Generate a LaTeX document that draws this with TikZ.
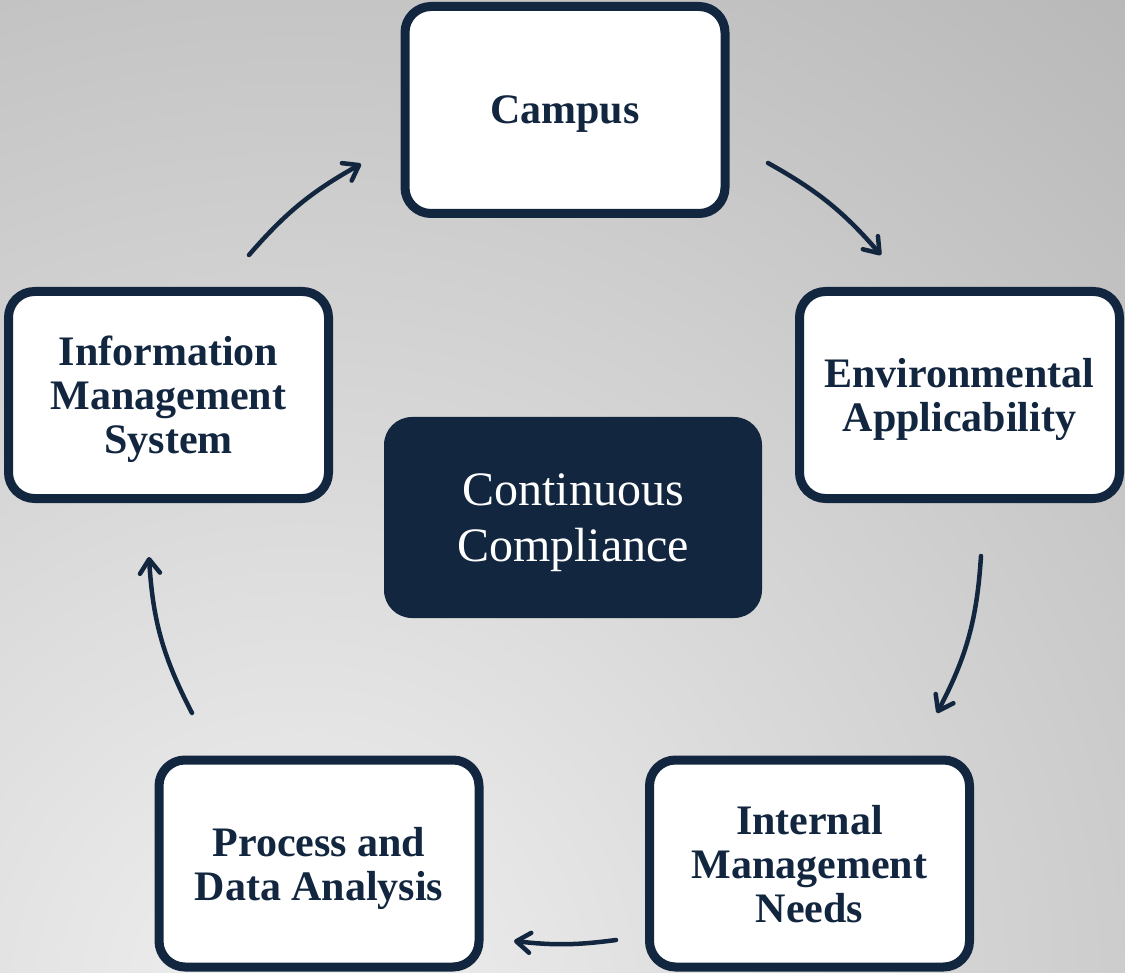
\documentclass[tikz,border=0pt]{standalone}
\usepackage{fontspec}
\setmainfont{Liberation Serif}
\usetikzlibrary{arrows.meta}
\definecolor{navy}{HTML}{12263F}
\definecolor{bgin}{HTML}{F0F0F0}
\definecolor{bgout}{HTML}{B8B8B8}
\pgfdeclareradialshading{bgshade}{\pgfpoint{0bp}{0bp}}{color(0bp)=(bgin); color(25bp)=(bgout); color(50bp)=(bgout)}
\begin{document}
\begin{tikzpicture}[x=1pt,y=1pt,
  stepbox/.style={draw=navy, line width=9pt, fill=white, rounded corners=26pt,
    minimum width=320pt, minimum height=207pt, inner sep=0pt, align=center,
    text depth=0pt, text=navy, font=\fontsize{42}{44}\selectfont\bfseries},
  core/.style={fill=navy, rounded corners=28pt, minimum width=378pt,
    minimum height=201pt, inner sep=0pt, align=center, text depth=0pt,
    text=white, font=\fontsize{48}{56}\selectfont},
  flow/.style={draw=navy, line width=4.5pt, line cap=round,
    -{Straight Barb[length=14pt,width=20pt,line cap=round,line join=round]}}
]
\useasboundingbox (0,0) rectangle (1125,-973);
\begin{scope}
  \clip (0,0) rectangle (1125,-973);
  \shade[shading=bgshade] (300,-1000) circle (1300);
\end{scope}

\node[stepbox] (campus) at (565,-110) {Campus};
\node[stepbox] (info) at (168.5,-395) {Information\\Management\\System};
\node[stepbox] (env) at (959.5,-395) {Environmental\\Applicability};
\node[stepbox] (need) at (809.5,-863.5) {Internal\\Management\\Needs};
\node[stepbox] (proc) at (319,-863.5) {Process and\\Data Analysis};
\node[core] (cc) at (573,-517.5) {Continuous\\Compliance};

\coordinate (a1s) at (249,-255); \coordinate (a1e) at (361,-164);
\coordinate (a2s) at (768,-163); \coordinate (a2e) at (881,-255);
\coordinate (a3s) at (981,-556); \coordinate (a3e) at (937,-713);
\coordinate (a4s) at (616,-940); \coordinate (a4e) at (514,-941);
\coordinate (a5s) at (192,-713); \coordinate (a5e) at (149,-557);

\draw[flow] (a1s) to[bend left=10] (a1e);
\draw[flow] (a2s) to[bend left=10] (a2e);
\draw[flow] (a3s) to[bend left=12] (a3e);
\draw[flow] (a4s) to[bend left=7] (a4e);
\draw[flow] (a5s) to[bend left=12] (a5e);
\end{tikzpicture}
\end{document}
